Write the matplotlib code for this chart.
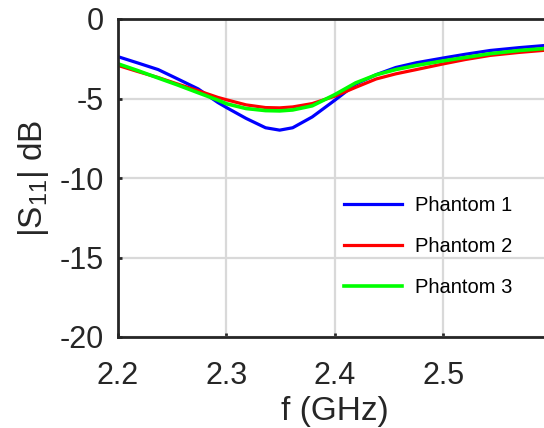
import matplotlib
matplotlib.use('Agg')
import matplotlib.pyplot as plt

# frequency (GHz) and |S11| (dB)
freq = [2.200, 2.218, 2.237, 2.255, 2.274, 2.292, 2.300, 2.318, 2.336, 2.349, 2.361,
        2.379, 2.400, 2.419, 2.438, 2.456, 2.475, 2.500, 2.520, 2.543, 2.570, 2.600]
phantom1 = [-2.37, -2.76, -3.18, -3.77, -4.40, -5.25, -5.57, -6.25, -6.84, -6.99, -6.84,
            -6.16, -5.10, -4.10, -3.50, -3.05, -2.75, -2.45, -2.22, -1.98, -1.80, -1.63]
phantom2 = [-2.92, -3.30, -3.68, -4.09, -4.51, -4.93, -5.08, -5.40, -5.57, -5.59, -5.53,
            -5.32, -4.85, -4.30, -3.77, -3.45, -3.18, -2.82, -2.55, -2.29, -2.10, -1.93]
phantom3 = [-2.82, -3.24, -3.71, -4.15, -4.64, -5.10, -5.33, -5.63, -5.76, -5.78, -5.72,
            -5.46, -4.75, -4.02, -3.51, -3.18, -2.92, -2.63, -2.42, -2.18, -1.98, -1.82]

xticks = [2.2, 2.3, 2.4, 2.5]
yticks = [0, -5, -10, -15, -20]

plt.rcParams['font.family'] = ['Liberation Sans', 'DejaVu Sans']
plt.rcParams['mathtext.fontset'] = 'custom'
plt.rcParams['mathtext.rm'] = 'Liberation Sans'
plt.rcParams['mathtext.it'] = 'Liberation Sans'

fig = plt.figure(figsize=(5.44, 4.28), dpi=100)
ax = fig.add_axes([118 / 544, 91 / 428, 434 / 544, 318 / 428])

ax.plot(freq, phantom1, color='#0000ff', lw=2.3, label='Phantom 1')
ax.plot(freq, phantom2, color='#ff0000', lw=2.3, label='Phantom 2')
ax.plot(freq, phantom3, color='#00ff00', lw=2.6, label='Phantom 3')

ax.set_xlim(2.2, 2.6)
ax.set_ylim(-20, 0)
ax.set_xticks(xticks)
ax.set_yticks(yticks)
ax.set_xticklabels([f'{v:.1f}' for v in xticks])
ax.set_yticklabels([str(v) for v in yticks])
ax.grid(True, color='#d9d9d9', lw=1.6)
ax.set_axisbelow(True)

for s in ax.spines.values():
    s.set_linewidth(2.0)
    s.set_color('#262626')
ax.tick_params(direction='in', length=3, width=2, colors='#262626',
               labelsize=22, top=False, right=False)
ax.tick_params(axis='x', pad=17)
ax.tick_params(axis='y', pad=10)

ax.set_xlabel('f (GHz)', fontsize=24, color='#262626', labelpad=4)
ax.set_ylabel('|S$_{\\mathregular{11}}$| dB', fontsize=24, color='#262626', labelpad=6)

ax.legend(loc='upper left', bbox_to_anchor=(0.478, 0.50), frameon=False,
          fontsize=14.5, handlelength=2.9, handletextpad=0.65, labelspacing=1.1)

fig.savefig('out.png', dpi=100)
